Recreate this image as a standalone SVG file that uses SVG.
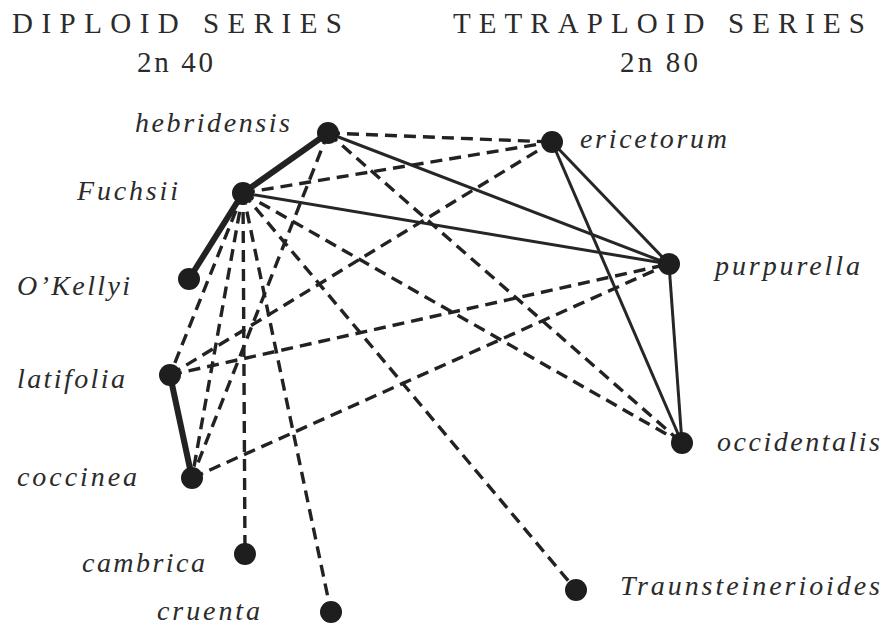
<svg xmlns="http://www.w3.org/2000/svg" width="885" height="627" viewBox="0 0 885 627">
<style>
.hdr{font-size:29px;fill:#2b2b2b}
.lbl{font-style:italic;font-size:28px;fill:#2b2b2b}
.thick{stroke:#222;stroke-width:6;stroke-linecap:round;fill:none}
.thin{stroke:#262626;stroke-width:3;fill:none}
.dash{stroke:#222;stroke-width:3.4;stroke-dasharray:12 7;fill:none}
.dot{fill:#1e1e1e}
</style>
<rect width="885" height="627" fill="#ffffff"/>
<g id="headers" font-family="Liberation Serif, DejaVu Serif, serif">
<text class="hdr" x="12" y="33" textLength="330">DIPLOID SERIES</text>
<text class="hdr" x="137" y="72" textLength="76">2n 40</text>
<text class="hdr" x="453" y="33" textLength="412">TETRAPLOID SERIES</text>
<text class="hdr" x="620" y="72" textLength="78">2n 80</text>
</g>
<g id="connectors">
<line class="thick" x1="328" y1="133" x2="243" y2="193"/>
<line class="thick" x1="243" y1="193" x2="189" y2="279"/>
<line class="thick" x1="170" y1="375" x2="192" y2="478"/>
<line class="thin" x1="328" y1="133" x2="669" y2="264"/>
<line class="thin" x1="243" y1="193" x2="669" y2="264"/>
<line class="thin" x1="552" y1="142" x2="669" y2="264"/>
<line class="thin" x1="552" y1="142" x2="682" y2="443"/>
<line class="thin" x1="669" y1="264" x2="682" y2="443"/>
<line class="dash" x1="328" y1="133" x2="552" y2="142"/>
<line class="dash" x1="243" y1="193" x2="552" y2="142"/>
<line class="dash" x1="328" y1="133" x2="682" y2="443"/>
<line class="dash" x1="328" y1="133" x2="192" y2="478"/>
<line class="dash" x1="243" y1="193" x2="682" y2="443"/>
<line class="dash" x1="243" y1="193" x2="576" y2="590"/>
<line class="dash" x1="243" y1="193" x2="170" y2="375"/>
<line class="dash" x1="243" y1="193" x2="192" y2="478"/>
<line class="dash" x1="243" y1="193" x2="245" y2="554"/>
<line class="dash" x1="243" y1="193" x2="331" y2="612"/>
<line class="dash" x1="170" y1="375" x2="552" y2="142"/>
<line class="dash" x1="170" y1="375" x2="669" y2="264"/>
<line class="dash" x1="192" y1="478" x2="669" y2="264"/>
</g>
<g font-family="Liberation Serif, DejaVu Serif, serif">
<g id="hebridensis"><circle class="dot" cx="328" cy="133" r="11"/><text class="lbl" x="135" y="132" textLength="155">hebridensis</text></g>
<g id="fuchsii"><circle class="dot" cx="243" cy="193" r="11"/><text class="lbl" x="77" y="200" textLength="101">Fuchsii</text></g>
<g id="okellyi"><circle class="dot" cx="189" cy="279" r="11"/><text class="lbl" x="17" y="295" textLength="113">O’Kellyi</text></g>
<g id="latifolia"><circle class="dot" cx="170" cy="375" r="11"/><text class="lbl" x="17" y="388" textLength="108">latifolia</text></g>
<g id="coccinea"><circle class="dot" cx="192" cy="478" r="11"/><text class="lbl" x="17" y="486" textLength="120">coccinea</text></g>
<g id="cambrica"><circle class="dot" cx="245" cy="554" r="11"/><text class="lbl" x="82" y="572" textLength="123">cambrica</text></g>
<g id="cruenta"><circle class="dot" cx="331" cy="612" r="11"/><text class="lbl" x="157" y="620" textLength="103">cruenta</text></g>
<g id="ericetorum"><circle class="dot" cx="552" cy="142" r="11"/><text class="lbl" x="580" y="148" textLength="147">ericetorum</text></g>
<g id="purpurella"><circle class="dot" cx="669" cy="264" r="11"/><text class="lbl" x="715" y="275" textLength="145">purpurella</text></g>
<g id="occidentalis"><circle class="dot" cx="682" cy="443" r="11"/><text class="lbl" x="717" y="451" textLength="163">occidentalis</text></g>
<g id="traunsteinerioides"><circle class="dot" cx="576" cy="590" r="11"/><text class="lbl" x="620" y="595" textLength="260">Traunsteinerioides</text></g>
</g>
</svg>
